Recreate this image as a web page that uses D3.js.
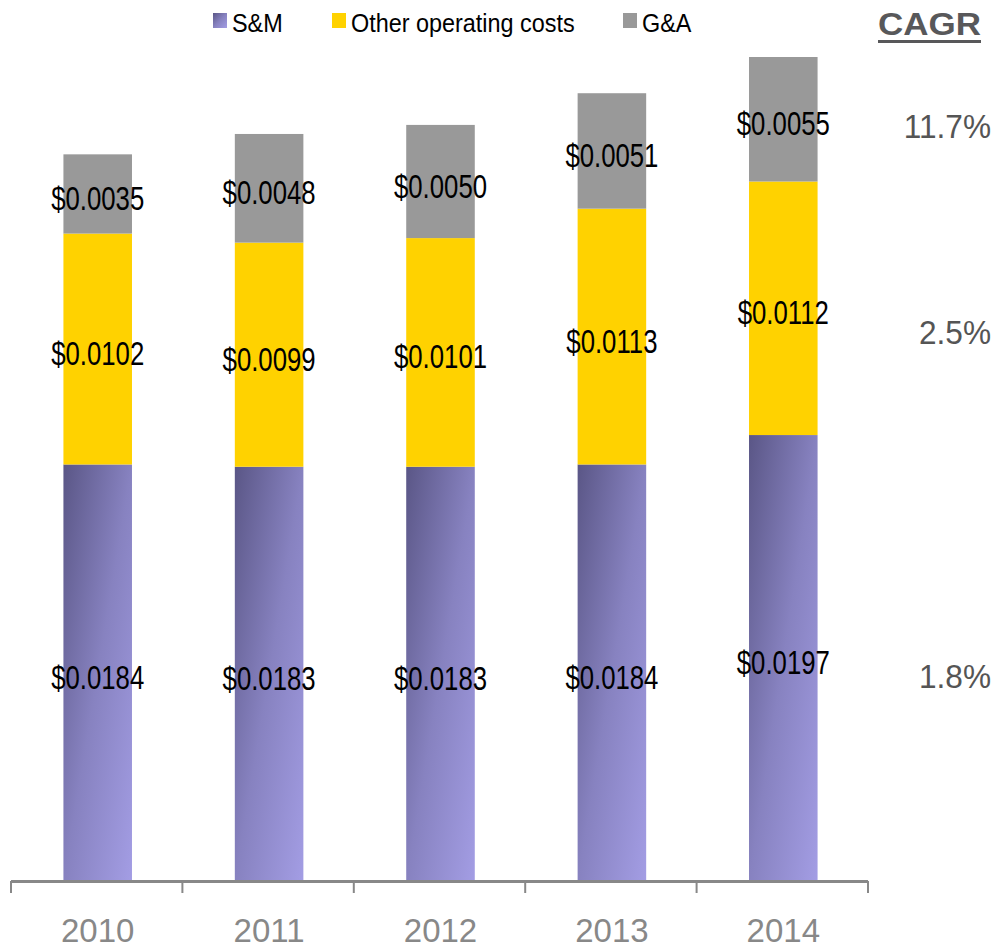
<!DOCTYPE html>
<html>
<head>
<meta charset="utf-8">
<script src="https://cdn.jsdelivr.net/npm/d3@7"></script>
<style>
  body { margin: 0; background: #fff; }
  text { font-family: "Liberation Sans", Arial, sans-serif; }
</style>
</head>
<body>
<div id="canvas"></div>
<script>
// data
const years = ['2010', '2011', '2012', '2013', '2014'];
const seriesNames = ['S&M', 'Other operating costs', 'G&A'];
const sm = [0.0184, 0.0183, 0.0183, 0.0184, 0.0197];
const other = [0.0102, 0.0099, 0.0101, 0.0113, 0.0112];
const ga = [0.0035, 0.0048, 0.0050, 0.0051, 0.0055];
const cagr = ['1.8%', '2.5%', '11.7%'];

const width = 998;
const height = 950;
const axisY = 881;
const colors = ['url(#smGrad)', '#ffd200', '#999999'];

const rows = years.map((y, i) => ({ year: y, 'S&M': sm[i], 'Other operating costs': other[i], 'G&A': ga[i] }));
const stacked = d3.stack().keys(seriesNames)(rows);

const totals = rows.map((r, i) => sm[i] + other[i] + ga[i]);

const x = d3.scaleBand()
    .domain(years)
    .range([12, 869])
    .paddingInner(0.6)
    .paddingOuter(0.3);

const y = d3.scaleLinear()
    .domain([0, d3.max(totals)])
    .range([axisY, 57]);

const svg = d3.select('#canvas')
    .append('svg').attr('width', width).attr('height', height);

// purple gradient for S&M
const defs = svg.append('defs');
const grad = defs.append('linearGradient')
    .attr('id', 'smGrad')
    .attr('x1', 0).attr('y1', 0).attr('x2', 1).attr('y2', 1);
grad.append('stop').attr('offset', '0%').attr('stop-color', '#5a5686');
grad.append('stop').attr('offset', '50%').attr('stop-color', '#8782c0');
grad.append('stop').attr('offset', '100%').attr('stop-color', '#a39de4');

// bars
const layers = svg.append('g').selectAll('g')
    .data(stacked)
    .join('g')
    .attr('fill', (d, i) => colors[i]);

layers.selectAll('rect')
    .data(d => d)
    .join('rect')
    .attr('x', d => x(d.data.year))
    .attr('y', d => y(d[1]))
    .attr('width', x.bandwidth())
    .attr('height', d => y(d[0]) - y(d[1]));

// value labels
layers.selectAll('text')
    .data(d => d.map(v => ({ v, key: d.key })))
    .join('text')
    .attr('transform', d => {
        const cx = x(d.v.data.year) + x.bandwidth() / 2;
        const cy = (y(d.v[0]) + y(d.v[1])) / 2 + 16;
        return `translate(${cx},${cy}) scale(0.78,1)`;
    })
    .attr('text-anchor', 'middle')
    .attr('font-size', 33)
    .attr('fill', '#000')
    .text(d => '$' + d.v.data[d.key].toFixed(4));

// axis line and boundary ticks
const bounds = d3.range(years.length + 1).map(i => 11 + i * x.step());
svg.append('line')
    .attr('x1', 11).attr('x2', 868)
    .attr('y1', axisY + 0.5).attr('y2', axisY + 0.5)
    .attr('stroke', '#888').attr('stroke-width', 3);
svg.append('g').selectAll('line')
    .data(bounds)
    .join('line')
    .attr('x1', d => d).attr('x2', d => d)
    .attr('y1', axisY).attr('y2', axisY + 12)
    .attr('stroke', '#888').attr('stroke-width', 2);

// year labels
const xAxis = d3.axisBottom(x).tickSize(0).tickPadding(0);
const gx = svg.append('g')
    .attr('transform', `translate(0,${axisY})`)
    .call(xAxis);
gx.select('.domain').remove();
gx.selectAll('text')
    .attr('dy', null)
    .attr('y', 61)
    .attr('font-size', 33)
    .attr('font-family', '"Liberation Sans", Arial, sans-serif')
    .attr('fill', '#888');

// legend
const legendX = [213, 332, 623];
const legend = svg.append('g').selectAll('g')
    .data(seriesNames)
    .join('g')
    .attr('transform', (d, i) => `translate(${legendX[i]},13)`);
legend.append('rect')
    .attr('width', 14).attr('height', 15)
    .attr('fill', (d, i) => colors[i]);
legend.append('text')
    .attr('transform', 'translate(19,19) scale(0.9,1)')
    .attr('font-size', 26)
    .attr('fill', '#000')
    .text(d => d);

// CAGR column
svg.append('text')
    .attr('x', 878).attr('y', 35)
    .attr('font-size', 31)
    .attr('font-weight', 'bold')
    .attr('fill', '#58585a')
    .attr('textLength', 103)
    .attr('lengthAdjust', 'spacingAndGlyphs')
    .text('CAGR');
svg.append('rect')
    .attr('x', 878).attr('y', 40)
    .attr('width', 103).attr('height', 3)
    .attr('fill', '#58585a');

const last = years.length - 1;
const cagrOffset = [18, 24, 7];
svg.append('g').selectAll('text')
    .data(stacked)
    .join('text')
    .attr('transform', (d, i) => {
        const cy = (y(d[last][0]) + y(d[last][1])) / 2 + cagrOffset[i] + 12;
        return `translate(991,${cy}) scale(0.93,1)`;
    })
    .attr('text-anchor', 'end')
    .attr('font-size', 34)
    .attr('fill', '#555')
    .text((d, i) => cagr[i]);
</script>
</body>
</html>
